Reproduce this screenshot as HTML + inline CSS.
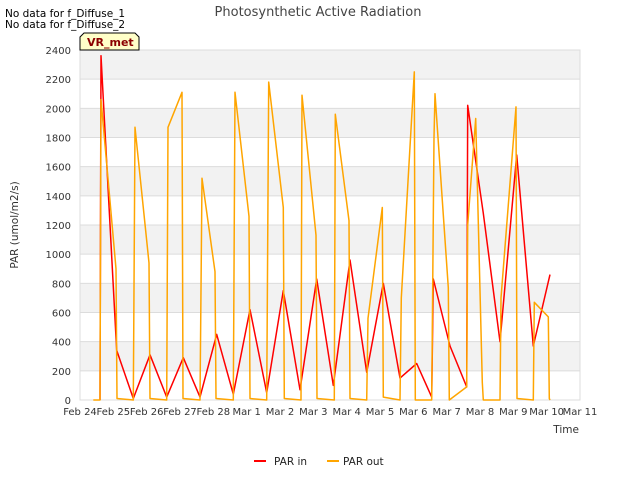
<!DOCTYPE html>
<html><head><meta charset="utf-8"><style>
body{margin:0;background:#fff;font-family:"Liberation Sans","DejaVu Sans",sans-serif}
text{font-family:"DejaVu Sans","Liberation Sans",sans-serif}
</style></head><body>
<svg id="c" width="640" height="480" viewBox="0 0 640 480">
<text x="5" y="17" font-size="10.5" fill="#000">No data for f_Diffuse_1</text>
<text x="5" y="28" font-size="10.5" fill="#000">No data for f_Diffuse_2</text>
<text x="318" y="16" font-size="13" fill="#444" text-anchor="middle">Photosynthetic Active Radiation</text>
<g id="bands"></g><g id="grid"></g><g id="ticks"></g>
<g id="series"></g>
<text x="18" y="225" font-size="10.5" fill="#333" text-anchor="middle" transform="rotate(-90 18 225)">PAR (umol/m2/s)</text>
<text x="579" y="433" font-size="10.5" fill="#333" text-anchor="end">Time</text>
<g>
<path d="M80,37 L84,33 L135,33 L139,37 L139,50 L80,50 Z" fill="#ffffc8" stroke="#000" stroke-width="1"/>
<text x="87" y="46" font-size="11" font-weight="bold" fill="#8b0000">VR_met</text></g>
<g>
<line x1="254" y1="461" x2="266" y2="461" stroke="#ff0000" stroke-width="2"/>
<text x="274" y="465" font-size="10.5" fill="#222">PAR in</text>
<line x1="327" y1="461" x2="339" y2="461" stroke="#ffa500" stroke-width="2"/>
<text x="343" y="465" font-size="10.5" fill="#222">PAR out</text>
</g>
</svg>
<script>
const xLabels=["Feb 24","Feb 25","Feb 26","Feb 27","Feb 28","Mar 1","Mar 2","Mar 3","Mar 4","Mar 5","Mar 6","Mar 7","Mar 8","Mar 9","Mar 10","Mar 11"];
const yTicks=[0,200,400,600,800,1000,1200,1400,1600,1800,2000,2200,2400];
const parInT=[0.6,0.63,1.1,1.6,2.1,2.6,3.1,3.6,4.1,4.6,5.1,5.6,6.1,6.6,7.1,7.6,8.1,8.6,9.1,9.6,10.1,10.55,10.6,11.1,11.6,11.63,12.1,12.6,13.1,13.6,14.1];
const parInV=[0,2360,340,10,310,20,290,20,450,40,620,50,750,70,830,100,960,190,800,150,250,20,830,370,90,2020,1280,400,1680,370,860];
const parOutT=[0.4,0.6,0.63,1.08,1.11,1.6,1.65,2.07,2.1,2.6,2.64,3.06,3.09,3.6,3.66,4.05,4.08,4.6,4.65,5.07,5.1,5.6,5.66,6.1,6.13,6.63,6.66,7.08,7.11,7.63,7.66,8.07,8.1,8.6,8.64,9.07,9.1,9.6,9.64,10.03,10.06,10.55,10.62,10.65,11.05,11.08,11.6,11.63,11.87,12.07,12.1,12.6,12.63,13.08,13.11,13.6,13.63,14.05,14.08,14.1];
const parOutV=[0,0,2060,900,10,0,1870,940,10,0,1870,2110,10,0,1520,880,10,0,2110,1260,10,0,2180,1320,10,0,2090,1130,10,0,1960,1230,10,0,560,1320,20,0,700,2250,0,0,1800,2100,770,0,90,1200,1930,120,0,0,700,2010,10,0,670,570,10,0];
const X0=80,X1=580,Y0=400,Y1=50,NS="http://www.w3.org/2000/svg";
const xs=t=>X0+t*(X1-X0)/15, ys=v=>Y0-v*(Y0-Y1)/2400;
function mk(tag,attrs,parent){const e=document.createElementNS(NS,tag);for(const k in attrs)e.setAttribute(k,attrs[k]);document.getElementById(parent).appendChild(e);return e;}
for(let i=0;i<12;i++){if(i%2===1){const r=mk('rect',{x:X0,y:ys(yTicks[i+1]),width:X1-X0,height:ys(yTicks[i])-ys(yTicks[i+1]),fill:'#f2f2f2'},'bands');

}}
yTicks.forEach(v=>{const l=mk('line',{x1:X0,x2:X1,y1:ys(v),y2:ys(v),stroke:'#dcdcdc','stroke-width':1},'grid');


const t=mk('text',{x:X0-9,y:ys(v)+4,'font-size':10,fill:'#333','text-anchor':'end'},'ticks');t.textContent=v;

});
const fr=mk('rect',{x:X0,y:Y1,width:X1-X0,height:Y0-Y1,fill:'none',stroke:'#dcdcdc'},'grid');


xLabels.forEach((s,i)=>{const t=mk('text',{x:xs(i),y:415,'font-size':10,fill:'#333','text-anchor':'middle'},'ticks');t.textContent=s;

});
function line(T,V,col,name){const d=T.map((t,i)=>(i?'L':'M')+xs(t).toFixed(1)+','+ys(V[i]).toFixed(1)).join(' ');
const p=mk('path',{d:d,fill:'none',stroke:col,'stroke-width':1.5,'stroke-linejoin':'round'},'series');

}
line(parInT,parInV,'#ff0000','par-in-line');
line(parOutT,parOutV,'#ffa500','par-out-line');
</script>
</body></html>
